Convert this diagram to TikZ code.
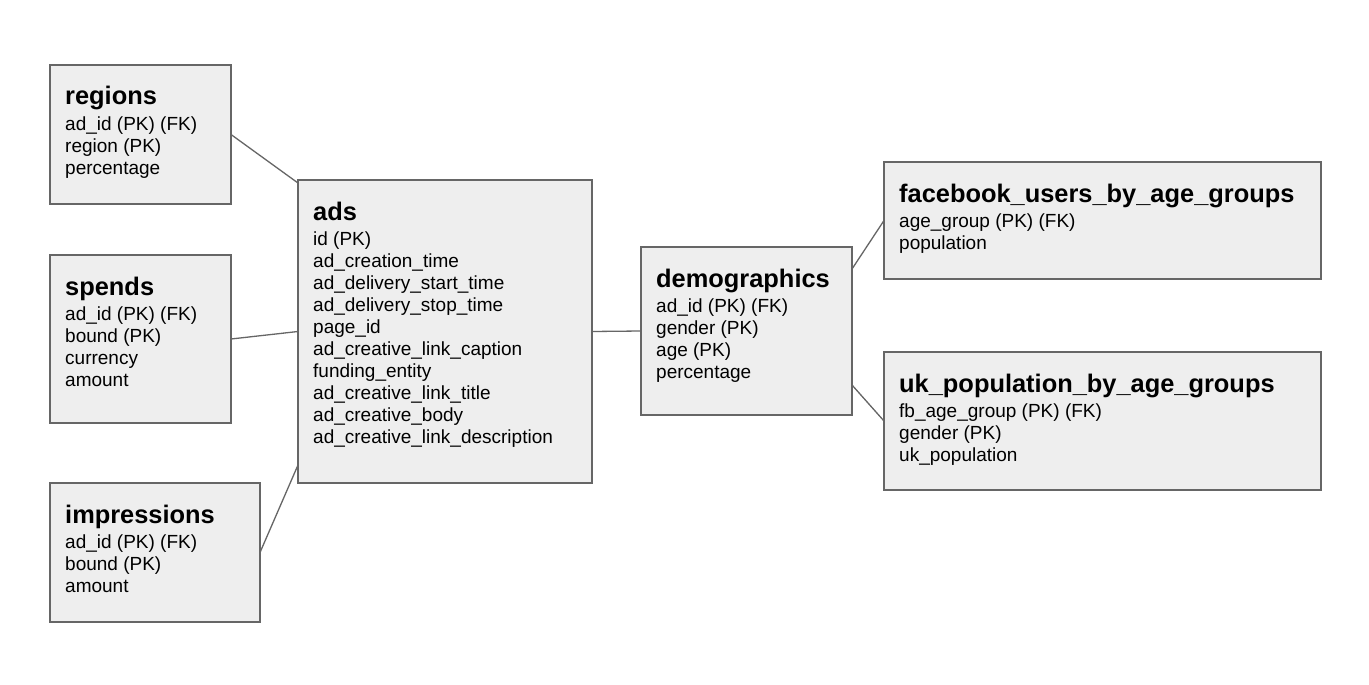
\documentclass[tikz,border=0pt]{standalone}
\usepackage{fontspec}
\setmainfont{Liberation Sans}
\definecolor{linegray}{HTML}{666666}
\definecolor{boxfill}{HTML}{EEEEEE}
\newcommand\dbtable[7]{%
  \node[tbl, minimum width=#4pt, minimum height=#5pt] (#1) at (#2,#3) {};
  \node[ttl] (#1-title) at ({#2+15},{#3+40}) {#6};
  \foreach \f [count=\i] in {#7}
    \node[fld] (#1-\i) at ({#2+15},{#3+65+22*(\i-1)}) {\f};
}
\begin{document}
\begin{tikzpicture}[x=1pt,y=-1pt,
  tbl/.style={draw=linegray, fill=boxfill, line width=1.3pt, anchor=north west, inner sep=0pt, outer sep=0pt},
  ttl/.style={anchor=base west, font=\bfseries\fontsize{25.4}{28}\selectfont, inner sep=0pt},
  fld/.style={anchor=base west, font=\fontsize{19}{22}\selectfont, inner sep=0pt},
  link/.style={draw=linegray, line width=1.3pt}]
\useasboundingbox[fill=white] (0,0) rectangle (1369,685);

\dbtable{regions}{50}{65}{181}{139}{regions}{ad\_id (PK) (FK),region (PK),percentage}
\dbtable{spends}{50}{255}{181}{168}{spends}{ad\_id (PK) (FK),bound (PK),currency,amount}
\dbtable{impressions}{50}{483}{210}{139}{impressions}{ad\_id (PK) (FK),bound (PK),amount}
\dbtable{ads}{298}{180}{294}{303}{ads}{id (PK),ad\_creation\_time,ad\_delivery\_start\_time,ad\_delivery\_stop\_time,page\_id,ad\_creative\_link\_caption,funding\_entity,ad\_creative\_link\_title,ad\_creative\_body,ad\_creative\_link\_description}
\dbtable{demo}{641}{247}{211}{168}{demographics}{ad\_id (PK) (FK),gender (PK),age (PK),percentage}
\dbtable{fb}{884}{162}{437}{117}{facebook\_users\_by\_age\_groups}{age\_group (PK) (FK),population}
\dbtable{uk}{884}{352}{437}{138}{uk\_population\_by\_age\_groups}{fb\_age\_group (PK) (FK),gender (PK),uk\_population}

\draw[link] (regions.east) -- ([yshift=-3pt]ads.north west);
\draw[link] (spends.east) -- (ads.west);
\draw[link] (impressions.east) -- ([yshift=18pt]ads.south west);
\draw[link] (ads.east) -- (demo.west);
\draw[link] ([yshift=-22pt]demo.north east) -- (fb.west);
\draw[link] ([yshift=30pt]demo.south east) -- (uk.west);
\end{tikzpicture}
\end{document}
